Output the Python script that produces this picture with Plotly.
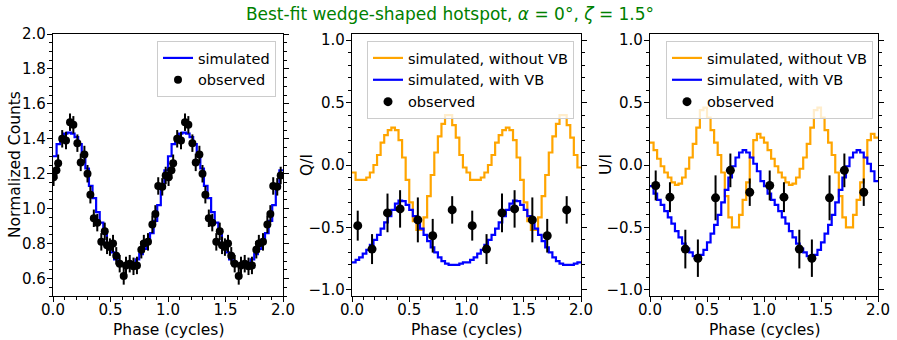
import numpy as np
import plotly.graph_objects as go

# simulated curves, one rotation cycle (32 phase bins), drawn twice
COUNTS_SIM = [1.30, 1.37, 1.41, 1.43, 1.435, 1.43, 1.41, 1.37, 1.31, 1.23, 1.13, 1.06,
              0.98, 0.92, 0.86, 0.80, 0.75, 0.71, 0.69, 0.68, 0.68, 0.68, 0.69, 0.71,
              0.74, 0.77, 0.81, 0.86, 0.93, 1.02, 1.12, 1.22]
Q_NO_VB = [-0.06, -0.12, -0.12, -0.12, -0.10, -0.06, 0.00, 0.08, 0.18, 0.24, 0.28, 0.30,
           0.28, 0.20, 0.06, -0.12, -0.30, -0.45, -0.52, -0.52, -0.42, -0.25, -0.08, 0.10,
           0.23, 0.33, 0.40, 0.40, 0.32, 0.22, 0.08, -0.02]
Q_VB = [-0.78, -0.76, -0.74, -0.71, -0.68, -0.64, -0.60, -0.56, -0.51, -0.46, -0.41, -0.36,
        -0.31, -0.285, -0.29, -0.32, -0.36, -0.41, -0.46, -0.51, -0.56, -0.61, -0.66, -0.70,
        -0.74, -0.77, -0.79, -0.80, -0.80, -0.80, -0.79, -0.78]
U_NO_VB = [0.18, 0.12, 0.05, -0.01, -0.06, -0.10, -0.14, -0.16, -0.15, -0.10, -0.03, 0.06,
           0.17, 0.30, 0.44, 0.46, 0.38, 0.28, 0.18, 0.08, -0.06, -0.25, -0.42, -0.50,
           -0.50, -0.40, -0.28, -0.14, 0.06, 0.20, 0.25, 0.22]
U_VB = [-0.17, -0.23, -0.28, -0.32, -0.37, -0.42, -0.47, -0.53, -0.58, -0.63, -0.67, -0.70,
        -0.73, -0.74, -0.72, -0.68, -0.62, -0.55, -0.48, -0.40, -0.30, -0.20, -0.10, -0.01,
        0.06, 0.10, 0.12, 0.10, 0.06, 0.01, -0.05, -0.13]

# observed, phase-folded (one cycle, repeated for the second)
OBS_I_PHASE = [0.005, 0.03, 0.045, 0.08, 0.113, 0.148, 0.177, 0.212, 0.241, 0.273, 0.30,
               0.325, 0.355, 0.385, 0.42, 0.45, 0.47, 0.495, 0.522, 0.55, 0.58, 0.615,
               0.635, 0.667, 0.70, 0.73, 0.768, 0.79, 0.826, 0.864, 0.89, 0.915, 0.95, 0.98]
OBS_I = [1.18, 1.22, 1.26, 1.40, 1.39, 1.495, 1.48, 1.375, 1.265, 1.31, 1.20,
         1.08, 0.945, 0.92, 0.81, 0.87, 0.79, 0.78, 0.80, 0.73, 0.685, 0.615,
         0.675, 0.685, 0.67, 0.675, 0.765, 0.80, 0.81, 0.91, 0.97, 1.13, 1.125, 1.19]
OBS_I_ERR = 0.05

POL_PHASE = [0.05, 0.175, 0.31, 0.42, 0.575, 0.705, 0.875]
OBS_Q = [-0.486, -0.674, -0.384, -0.352, -0.44, -0.567, -0.36]
OBS_U = [-0.164, -0.258, -0.674, -0.747, -0.263, -0.043, -0.218]
POL_ERR = [0.12, 0.12, 0.155, 0.15, 0.18, 0.135, 0.11]

FONT = "DejaVu Sans"


def step_xy(cycle):
    vals = list(cycle) * 2
    edges = np.linspace(0, 2, len(vals) + 1)
    return edges, vals + [vals[-1]]


def two_cycles(phases, values):
    return list(phases) + [p + 1 for p in phases], list(values) * 2


fig = go.Figure()


def add_line(cycle, name, color, ax, legend):
    x, y = step_xy(cycle)
    fig.add_trace(go.Scatter(
        x=x, y=y, mode="lines", name=name, line=dict(color=color, width=2.2, shape="hv"),
        xaxis="x" + ax, yaxis="y" + ax, legend=legend,
    ))


def add_obs(phases, values, err, ax, legend, size):
    x, y = two_cycles(phases, values)
    e = err * 2 if isinstance(err, list) else [err] * len(x)
    fig.add_trace(go.Scatter(
        x=x, y=y, mode="markers", name="observed",
        marker=dict(color="black", size=size),
        error_y=dict(type="data", array=e, color="black", thickness=2, width=0),
        xaxis="x" + ax, yaxis="y" + ax, legend=legend,
    ))


add_line(COUNTS_SIM, "simulated", "#0000ff", "", "legend")
add_obs(OBS_I_PHASE, OBS_I, OBS_I_ERR, "", "legend", 8)

add_line(Q_NO_VB, "simulated, without VB", "#ffa500", "2", "legend2")
add_line(Q_VB, "simulated, with VB", "#0000ff", "2", "legend2")
add_obs(POL_PHASE, OBS_Q, POL_ERR, "2", "legend2", 9)

add_line(U_NO_VB, "simulated, without VB", "#ffa500", "3", "legend3")
add_line(U_VB, "simulated, with VB", "#0000ff", "3", "legend3")
add_obs(POL_PHASE, OBS_U, POL_ERR, "3", "legend3", 9)

W, H = 897, 340
y_dom = [(H - 296) / H, (H - 34) / H]
x_doms = [[53 / W, 283 / W], [352 / W, 581 / W], [650 / W, 878 / W]]

axis_common = dict(
    showline=True, linecolor="black", linewidth=1.2, showgrid=False, zeroline=False,
    ticks="outside", ticklen=5, tickwidth=1.2, tickcolor="black", automargin=False,
    tickfont=dict(family=FONT, size=15, color="black"),
)
minor_x = dict(ticks="outside", ticklen=3, tickwidth=1, tickcolor="black", dtick=0.1, showgrid=False)

layout = dict(
    width=W, height=H, plot_bgcolor="white", paper_bgcolor="white",
    margin=dict(l=0, r=0, t=0, b=0, autoexpand=False),
    font=dict(family=FONT, color="black"),
    title=dict(
        text="Best-fit wedge-shaped hotspot, <i>α</i> = 0°, <i>ζ</i> = 1.5°",
        x=450 / W, xanchor="center", y=1 - 14 / H, yanchor="middle",
        font=dict(family=FONT, size=17, color="#008000"),
    ),
)

ytitles = ["Normalized Counts", "Q/I", "U/I"]
ytitle_x = [15, 307, 606]
legend_right = [276, 574, 873]
annotations = []
for i in range(3):
    suf = "" if i == 0 else str(i + 1)
    layout["xaxis" + suf] = dict(
        axis_common, domain=x_doms[i], range=[0, 2], dtick=0.5, tickformat=".1f",
        mirror=True, anchor="y" + suf, minor=minor_x, ticklabelstandoff=-5,
    )
    if i == 0:
        yspec = dict(range=[0.5, 2.0], dtick=0.2, tick0=0,
                     minor=dict(minor_x, dtick=0.05))
    else:
        yspec = dict(range=[-1.05, 1.05], dtick=0.5, tick0=0,
                     minor=dict(minor_x, dtick=0.1))
    layout["yaxis" + suf] = dict(
        axis_common, domain=y_dom, tickformat=".1f", mirror="ticks", anchor="x" + suf,
        ticklabelstandoff=-2, **yspec,
    )
    layout["legend" + suf] = dict(
        x=legend_right[i] / W, xanchor="right", y=(H - 41) / H, yanchor="top",
        bgcolor="rgba(255,255,255,0.8)", bordercolor="#cccccc", borderwidth=1,
        font=dict(family=FONT, size=14.5, color="black"), tracegroupgap=0, itemwidth=30,
    )
    # axis titles
    annotations.append(dict(
        text="Phase (cycles)", xref="paper", yref="paper",
        x=sum(x_doms[i]) / 2, y=(H - 330) / H, xanchor="center", yanchor="middle",
        showarrow=False, font=dict(family=FONT, size=15.5, color="black"),
    ))
    annotations.append(dict(
        text=ytitles[i], xref="paper", yref="paper", textangle=-90,
        x=ytitle_x[i] / W, y=sum(y_dom) / 2, xanchor="center", yanchor="middle",
        showarrow=False, font=dict(family=FONT, size=15.5, color="black"),
    ))

layout["annotations"] = annotations
fig.update_layout(**layout)
fig.write_html("out.html", config={"displayModeBar": False},
               post_script="document.body.style.margin='0';")
